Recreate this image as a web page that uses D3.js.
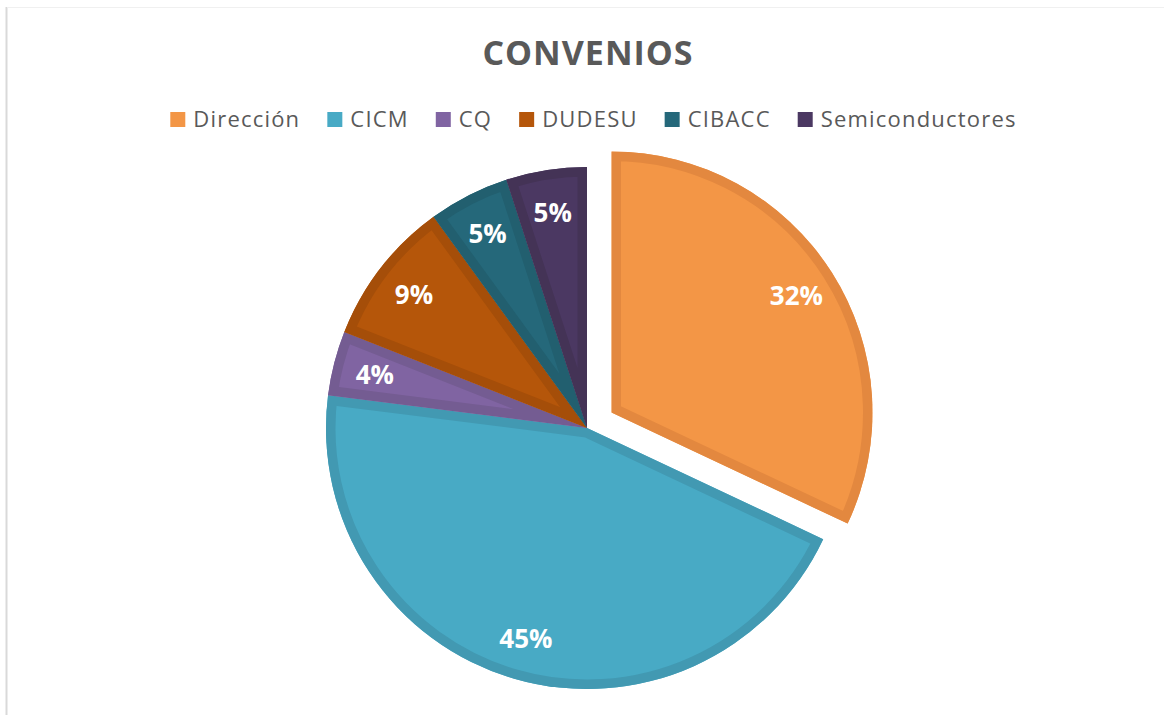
<!DOCTYPE html>
<html>
<head>
<meta charset="utf-8">
<script src="https://cdn.jsdelivr.net/npm/d3@7"></script>
<style>
  body { margin: 0; background: #fff; }
  svg { display: block; font-family: "Open Sans", "Noto Sans", sans-serif; }
</style>
</head>
<body>
<svg id="chart" width="1164" height="715"></svg>
<script>
const categories = ["Dirección", "CICM", "CQ", "DUDESU", "CIBACC", "Semiconductores"];
const values = [32, 45, 4, 9, 5, 5];
const fills = ["#F39646", "#48AAC5", "#8064A2", "#B5560A", "#25687A", "#4B3862"];
const strokes = ["#E3883F", "#4299B2", "#745C92", "#A54E09", "#225F6F", "#443356"];
const exploded = ["Dirección"];

const width = 1164, height = 715;
const cx = 587, cy = 428, radius = 261, explodeDist = 29, labelRadius = 219;

const svg = d3.select("#chart");

// faint frame on the left and top
svg.append("line").attr("x1", 6.5).attr("x2", 6.5).attr("y1", 7).attr("y2", height)
  .attr("stroke", "#d9d9d9").attr("stroke-width", 2);
svg.append("line").attr("x1", 7).attr("x2", width).attr("y1", 7.5).attr("y2", 7.5)
  .attr("stroke", "#f0f0f0").attr("stroke-width", 1);

// Title
svg.append("text")
  .attr("x", 588).attr("y", 65)
  .attr("text-anchor", "middle")
  .style("font-size", "34px")
  .style("font-weight", "bold")
  .style("letter-spacing", "1px")
  .style("fill", "#595959")
  .text("CONVENIOS");

// Legend
const legend = svg.append("g");
let lx = 0;
categories.forEach((c, i) => {
  const item = legend.append("g").attr("transform", `translate(${lx},0)`);
  item.append("rect").attr("x", 0).attr("y", -15).attr("width", 15).attr("height", 15)
    .style("fill", fills[i]);
  const t = item.append("text").attr("x", 23).attr("y", 0)
    .style("font-size", "22px").style("letter-spacing", "1.2px")
    .style("fill", "#595959").text(c);
  lx += 23 + t.node().getComputedTextLength() + 27;
});
const legendW = lx - 27;
legend.attr("transform", `translate(${(170 + 1017) / 2 - legendW / 2},127)`);

// Pie
const data = categories.map((c, i) => ({ name: c, value: values[i], i }));
const pie = d3.pie().sort(null).value(d => d.value);
const arc = d3.arc().innerRadius(0).outerRadius(radius);
const arcs = pie(data);

const defs = svg.append("defs");

arcs.forEach((a, k) => {
  const mid = (a.startAngle + a.endAngle) / 2;
  const off = exploded.includes(a.data.name) ? explodeDist : 0;
  const dx = Math.sin(mid) * off, dy = -Math.cos(mid) * off;
  const sg = svg.append("g").attr("transform", `translate(${cx + dx},${cy + dy})`);

  defs.append("clipPath").attr("id", "clip" + k)
    .append("path").attr("d", arc(a));

  sg.append("path")
    .attr("d", arc(a))
    .style("fill", fills[a.data.i]);
  // inner border band, clipped to the slice
  sg.append("path")
    .attr("d", arc(a))
    .attr("clip-path", `url(#clip${k})`)
    .style("fill", "none")
    .style("stroke", strokes[a.data.i])
    .style("stroke-width", 19)
    .style("stroke-linejoin", "miter");
});

// Labels
arcs.forEach(a => {
  const mid = (a.startAngle + a.endAngle) / 2;
  const off = exploded.includes(a.data.name) ? explodeDist : 0;
  const r = labelRadius + off;
  svg.append("text")
    .attr("x", cx + Math.sin(mid) * r)
    .attr("y", cy - Math.cos(mid) * r)
    .attr("text-anchor", "middle")
    .attr("dominant-baseline", "central")
    .style("font-size", "26px")
    .style("font-weight", "bold")
    .style("fill", "#ffffff")
    .text(a.data.value + "%");
});
</script>
</body>
</html>
